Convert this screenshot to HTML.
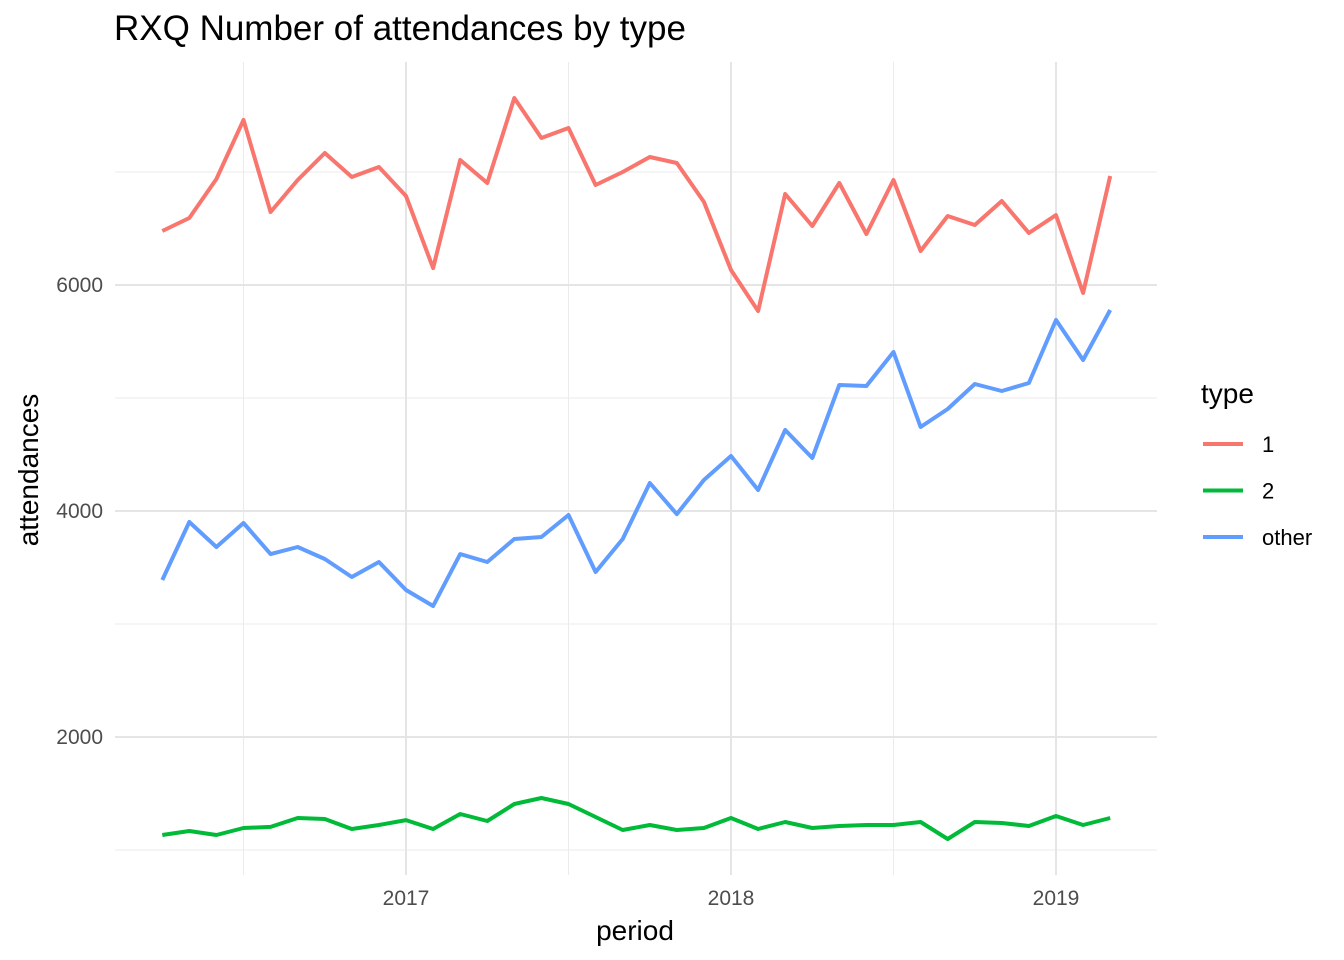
<!DOCTYPE html>
<html><head><meta charset="utf-8"><style>
body{margin:0;background:#fff;}
svg{display:block;font-family:"Liberation Sans",Arial,sans-serif;}
</style></head><body>
<svg id="chart" width="1344" height="960"></svg>
<script>
const startYear = 2016, startMonth = 3; // April 2016
const type1 = [6478,6593,6938,7460,6646,6929,7168,6956,7044,6788,6150,7106,6903,7655,7301,7389,6885,7000,7133,7080,6735,6133,5770,6805,6522,6903,6451,6929,6301,6611,6531,6743,6460,6619,5929,6965];
const type2 = [1133,1168,1133,1195,1204,1283,1274,1186,1221,1265,1186,1319,1257,1407,1460,1407,1292,1177,1221,1177,1195,1283,1186,1248,1195,1212,1221,1221,1248,1097,1248,1239,1212,1301,1221,1283];
const typeOther = [3389,3903,3681,3894,3619,3681,3575,3416,3549,3301,3159,3619,3549,3752,3770,3965,3460,3752,4248,3973,4274,4487,4186,4717,4469,5115,5106,5407,4743,4903,5124,5062,5133,5690,5336,5779];
const yTicks = [2000,4000,6000];
const yMinor = [1000,3000,5000,7000];
const xTicks = [2017,2018,2019];
const xMinor = [2016.5,2017.5,2018.5];
const seriesNames = ["1","2","other"];
const colors = ["#F8766D","#00BA38","#619CFF"];

const NS="http://www.w3.org/2000/svg";
const svg=document.getElementById('chart');
const X=t=>406+(t-2017)*325;
const Y=v=>285-(v-6000)*0.113;
const PL=115,PR=1157,PT=62,PB=875;
function mk(tag,attrs,parent){const e=document.createElementNS(NS,tag);for(const k in attrs)e.setAttribute(k,attrs[k]);(parent||svg).appendChild(e);return e;}

yMinor.forEach(v=>{const l=mk('line',{x1:PL,x2:PR,y1:Y(v),y2:Y(v),stroke:'#EBEBEB','stroke-width':1});

});
xMinor.forEach(v=>{const l=mk('line',{x1:X(v),x2:X(v),y1:PT,y2:PB,stroke:'#EBEBEB','stroke-width':1});

});
yTicks.forEach(v=>{const l=mk('line',{x1:PL,x2:PR,y1:Y(v),y2:Y(v),stroke:'#E5E5E5','stroke-width':2});


const t=mk('text',{x:103,y:Y(v)+7,'text-anchor':'end','font-size':21,fill:'#4D4D4D'});t.textContent=v;

});
xTicks.forEach(v=>{const l=mk('line',{x1:X(v),x2:X(v),y1:PT,y2:PB,stroke:'#E5E5E5','stroke-width':2});


const t=mk('text',{x:X(v),y:905,'text-anchor':'middle','font-size':21,fill:'#4D4D4D'});t.textContent=v;

});

[type1,type2,typeOther].forEach((arr,si)=>{
  const pts=arr.map((v,i)=>X(startYear+(startMonth+i)/12).toFixed(1)+','+Y(v).toFixed(1)).join(' ');
  const p=mk('polyline',{points:pts,fill:'none',stroke:colors[si],'stroke-width':4,'stroke-linejoin':'round'});
  
  
});

let t=mk('text',{x:114,y:40,'font-size':35,fill:'#000'});t.textContent='RXQ Number of attendances by type';


t=mk('text',{x:635,y:940,'text-anchor':'middle','font-size':28,fill:'#000'});t.textContent='period';


t=mk('text',{x:38,y:470,'text-anchor':'middle','font-size':28,fill:'#000',transform:'rotate(-90 38 470)'});t.textContent='attendances';


t=mk('text',{x:1201,y:403,'font-size':28,fill:'#000'});t.textContent='type';


seriesNames.forEach((n,i)=>{
  const y=444+i*46.5;
  const g=mk('g',{});
  
  
  mk('line',{x1:1203,x2:1243,y1:y,y2:y,stroke:colors[i],'stroke-width':4},g);
  const tt=mk('text',{x:1262,y:y+8,'font-size':22,fill:'#000'},g);tt.textContent=n;
});
</script>
</body></html>
